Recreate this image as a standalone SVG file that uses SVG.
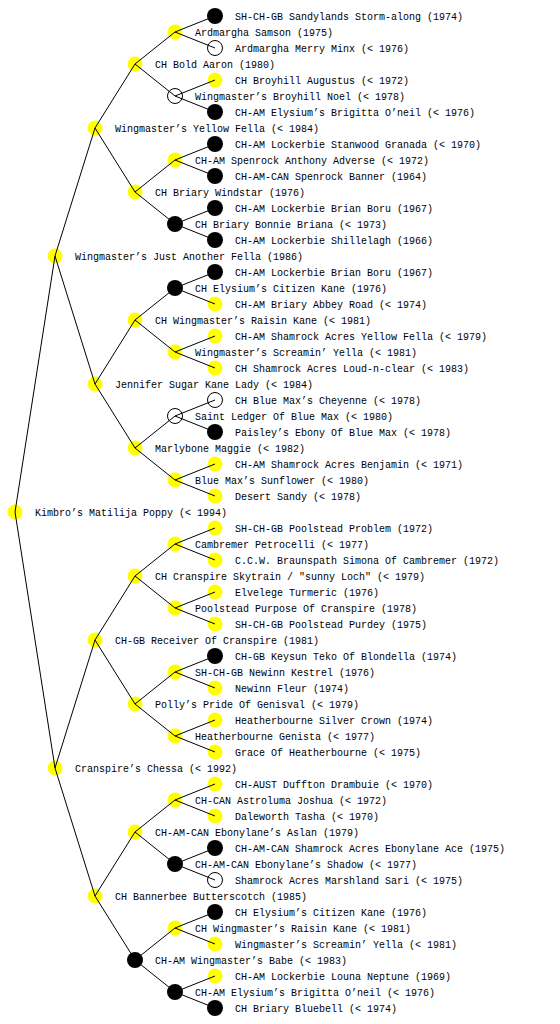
<svg xmlns="http://www.w3.org/2000/svg" width="560" height="1024" viewBox="0 0 560 1024">
<style>
text{font-family:"Liberation Mono","DejaVu Sans Mono",monospace;font-size:10px;fill:#000}
.y{fill:#ffff00}
.b{fill:#000}
.w{fill:#fff;stroke:#000;stroke-width:1}
#connectors line{stroke:#000;stroke-width:1}
</style>
<rect width="560" height="1024" fill="#fff"/>
<g id="nodes">
<g id="n0"><circle class="y" cx="15" cy="512" r="7.5"/><text x="35" y="516">Kimbro’s Matilija Poppy (&lt; 1994)</text></g>
<g id="n1a"><circle class="y" cx="55" cy="256" r="7.5"/><text x="75" y="260">Wingmaster’s Just Another Fella (1986)</text></g>
<g id="n1b"><circle class="y" cx="55" cy="768" r="7.5"/><text x="75" y="772">Cranspire’s Chessa (&lt; 1992)</text></g>
<g id="n2a"><circle class="y" cx="95" cy="128" r="7.5"/><text x="115" y="132">Wingmaster’s Yellow Fella (&lt; 1984)</text></g>
<g id="n2b"><circle class="y" cx="95" cy="384" r="7.5"/><text x="115" y="388">Jennifer Sugar Kane Lady (&lt; 1984)</text></g>
<g id="n2c"><circle class="y" cx="95" cy="640" r="7.5"/><text x="115" y="644">CH-GB Receiver Of Cranspire (1981)</text></g>
<g id="n2d"><circle class="y" cx="95" cy="896" r="7.5"/><text x="115" y="900">CH Bannerbee Butterscotch (1985)</text></g>
<g id="n3a"><circle class="y" cx="135" cy="64" r="7.5"/><text x="155" y="68">CH Bold Aaron (1980)</text></g>
<g id="n3b"><circle class="y" cx="135" cy="192" r="7.5"/><text x="155" y="196">CH Briary Windstar (1976)</text></g>
<g id="n3c"><circle class="y" cx="135" cy="320" r="7.5"/><text x="155" y="324">CH Wingmaster’s Raisin Kane (&lt; 1981)</text></g>
<g id="n3d"><circle class="y" cx="135" cy="448" r="7.5"/><text x="155" y="452">Marlybone Maggie (&lt; 1982)</text></g>
<g id="n3e"><circle class="y" cx="135" cy="576" r="7.5"/><text x="155" y="580">CH Cranspire Skytrain / "sunny Loch" (&lt; 1979)</text></g>
<g id="n3f"><circle class="y" cx="135" cy="704" r="7.5"/><text x="155" y="708">Polly’s Pride Of Genisval (&lt; 1979)</text></g>
<g id="n3g"><circle class="y" cx="135" cy="832" r="7.5"/><text x="155" y="836">CH-AM-CAN Ebonylane’s Aslan (1979)</text></g>
<g id="n3h"><circle class="b" cx="135" cy="960" r="8"/><text x="155" y="964">CH-AM Wingmaster’s Babe (&lt; 1983)</text></g>
<g id="n4a"><circle class="y" cx="175" cy="32" r="7.5"/><text x="195" y="36">Ardmargha Samson (1975)</text></g>
<g id="n4b"><circle class="w" cx="175" cy="96" r="7.5"/><text x="195" y="100">Wingmaster’s Broyhill Noel (&lt; 1978)</text></g>
<g id="n4c"><circle class="y" cx="175" cy="160" r="7.5"/><text x="195" y="164">CH-AM Spenrock Anthony Adverse (&lt; 1972)</text></g>
<g id="n4d"><circle class="b" cx="175" cy="224" r="8"/><text x="195" y="228">CH Briary Bonnie Briana (&lt; 1973)</text></g>
<g id="n4e"><circle class="b" cx="175" cy="288" r="8"/><text x="195" y="292">CH Elysium’s Citizen Kane (1976)</text></g>
<g id="n4f"><circle class="y" cx="175" cy="352" r="7.5"/><text x="195" y="356">Wingmaster’s Screamin’ Yella (&lt; 1981)</text></g>
<g id="n4g"><circle class="w" cx="175" cy="416" r="7.5"/><text x="195" y="420">Saint Ledger Of Blue Max (&lt; 1980)</text></g>
<g id="n4h"><circle class="y" cx="175" cy="480" r="7.5"/><text x="195" y="484">Blue Max’s Sunflower (&lt; 1980)</text></g>
<g id="n4i"><circle class="y" cx="175" cy="544" r="7.5"/><text x="195" y="548">Cambremer Petrocelli (&lt; 1977)</text></g>
<g id="n4j"><circle class="y" cx="175" cy="608" r="7.5"/><text x="195" y="612">Poolstead Purpose Of Cranspire (1978)</text></g>
<g id="n4k"><circle class="y" cx="175" cy="672" r="7.5"/><text x="195" y="676">SH-CH-GB Newinn Kestrel (1976)</text></g>
<g id="n4l"><circle class="y" cx="175" cy="736" r="7.5"/><text x="195" y="740">Heatherbourne Genista (&lt; 1977)</text></g>
<g id="n4m"><circle class="y" cx="175" cy="800" r="7.5"/><text x="195" y="804">CH-CAN Astroluma Joshua (&lt; 1972)</text></g>
<g id="n4n"><circle class="b" cx="175" cy="864" r="8"/><text x="195" y="868">CH-AM-CAN Ebonylane’s Shadow (&lt; 1977)</text></g>
<g id="n4o"><circle class="y" cx="175" cy="928" r="7.5"/><text x="195" y="932">CH Wingmaster’s Raisin Kane (&lt; 1981)</text></g>
<g id="n4p"><circle class="b" cx="175" cy="992" r="8"/><text x="195" y="996">CH-AM Elysium’s Brigitta O’neil (&lt; 1976)</text></g>
<g id="n5_00"><circle class="b" cx="215" cy="16" r="8"/><text x="235" y="20">SH-CH-GB Sandylands Storm-along (1974)</text></g>
<g id="n5_01"><circle class="w" cx="215" cy="48" r="7.5"/><text x="235" y="52">Ardmargha Merry Minx (&lt; 1976)</text></g>
<g id="n5_02"><circle class="y" cx="215" cy="80" r="7.5"/><text x="235" y="84">CH Broyhill Augustus (&lt; 1972)</text></g>
<g id="n5_03"><circle class="b" cx="215" cy="112" r="8"/><text x="235" y="116">CH-AM Elysium’s Brigitta O’neil (&lt; 1976)</text></g>
<g id="n5_04"><circle class="b" cx="215" cy="144" r="8"/><text x="235" y="148">CH-AM Lockerbie Stanwood Granada (&lt; 1970)</text></g>
<g id="n5_05"><circle class="b" cx="215" cy="176" r="8"/><text x="235" y="180">CH-AM-CAN Spenrock Banner (1964)</text></g>
<g id="n5_06"><circle class="b" cx="215" cy="208" r="8"/><text x="235" y="212">CH-AM Lockerbie Brian Boru (1967)</text></g>
<g id="n5_07"><circle class="b" cx="215" cy="240" r="8"/><text x="235" y="244">CH-AM Lockerbie Shillelagh (1966)</text></g>
<g id="n5_08"><circle class="b" cx="215" cy="272" r="8"/><text x="235" y="276">CH-AM Lockerbie Brian Boru (1967)</text></g>
<g id="n5_09"><circle class="y" cx="215" cy="304" r="7.5"/><text x="235" y="308">CH-AM Briary Abbey Road (&lt; 1974)</text></g>
<g id="n5_10"><circle class="y" cx="215" cy="336" r="7.5"/><text x="235" y="340">CH-AM Shamrock Acres Yellow Fella (&lt; 1979)</text></g>
<g id="n5_11"><circle class="y" cx="215" cy="368" r="7.5"/><text x="235" y="372">CH Shamrock Acres Loud-n-clear (&lt; 1983)</text></g>
<g id="n5_12"><circle class="w" cx="215" cy="400" r="7.5"/><text x="235" y="404">CH Blue Max’s Cheyenne (&lt; 1978)</text></g>
<g id="n5_13"><circle class="b" cx="215" cy="432" r="8"/><text x="235" y="436">Paisley’s Ebony Of Blue Max (&lt; 1978)</text></g>
<g id="n5_14"><circle class="y" cx="215" cy="464" r="7.5"/><text x="235" y="468">CH-AM Shamrock Acres Benjamin (&lt; 1971)</text></g>
<g id="n5_15"><circle class="y" cx="215" cy="496" r="7.5"/><text x="235" y="500">Desert Sandy (&lt; 1978)</text></g>
<g id="n5_16"><circle class="y" cx="215" cy="528" r="7.5"/><text x="235" y="532">SH-CH-GB Poolstead Problem (1972)</text></g>
<g id="n5_17"><circle class="y" cx="215" cy="560" r="7.5"/><text x="235" y="564">C.C.W. Braunspath Simona Of Cambremer (1972)</text></g>
<g id="n5_18"><circle class="y" cx="215" cy="592" r="7.5"/><text x="235" y="596">Elvelege Turmeric (1976)</text></g>
<g id="n5_19"><circle class="y" cx="215" cy="624" r="7.5"/><text x="235" y="628">SH-CH-GB Poolstead Purdey (1975)</text></g>
<g id="n5_20"><circle class="b" cx="215" cy="656" r="8"/><text x="235" y="660">CH-GB Keysun Teko Of Blondella (1974)</text></g>
<g id="n5_21"><circle class="y" cx="215" cy="688" r="7.5"/><text x="235" y="692">Newinn Fleur (1974)</text></g>
<g id="n5_22"><circle class="y" cx="215" cy="720" r="7.5"/><text x="235" y="724">Heatherbourne Silver Crown (1974)</text></g>
<g id="n5_23"><circle class="y" cx="215" cy="752" r="7.5"/><text x="235" y="756">Grace Of Heatherbourne (&lt; 1975)</text></g>
<g id="n5_24"><circle class="y" cx="215" cy="784" r="7.5"/><text x="235" y="788">CH-AUST Duffton Drambuie (&lt; 1970)</text></g>
<g id="n5_25"><circle class="y" cx="215" cy="816" r="7.5"/><text x="235" y="820">Daleworth Tasha (&lt; 1970)</text></g>
<g id="n5_26"><circle class="b" cx="215" cy="848" r="8"/><text x="235" y="852">CH-AM-CAN Shamrock Acres Ebonylane Ace (1975)</text></g>
<g id="n5_27"><circle class="w" cx="215" cy="880" r="7.5"/><text x="235" y="884">Shamrock Acres Marshland Sari (&lt; 1975)</text></g>
<g id="n5_28"><circle class="b" cx="215" cy="912" r="8"/><text x="235" y="916">CH Elysium’s Citizen Kane (1976)</text></g>
<g id="n5_29"><circle class="y" cx="215" cy="944" r="7.5"/><text x="235" y="948">Wingmaster’s Screamin’ Yella (&lt; 1981)</text></g>
<g id="n5_30"><circle class="y" cx="215" cy="976" r="7.5"/><text x="235" y="980">CH-AM Lockerbie Louna Neptune (1969)</text></g>
<g id="n5_31"><circle class="b" cx="215" cy="1008" r="8"/><text x="235" y="1012">CH Briary Bluebell (&lt; 1974)</text></g>
</g>
<g id="connectors">
<line x1="15" y1="512" x2="55" y2="256"/><line x1="15" y1="512" x2="55" y2="768"/>
<line x1="55" y1="256" x2="95" y2="128"/><line x1="55" y1="256" x2="95" y2="384"/>
<line x1="55" y1="768" x2="95" y2="640"/><line x1="55" y1="768" x2="95" y2="896"/>
<line x1="95" y1="128" x2="135" y2="64"/><line x1="95" y1="128" x2="135" y2="192"/>
<line x1="95" y1="384" x2="135" y2="320"/><line x1="95" y1="384" x2="135" y2="448"/>
<line x1="95" y1="640" x2="135" y2="576"/><line x1="95" y1="640" x2="135" y2="704"/>
<line x1="95" y1="896" x2="135" y2="832"/><line x1="95" y1="896" x2="135" y2="960"/>
<line x1="135" y1="64" x2="175" y2="32"/><line x1="135" y1="64" x2="175" y2="96"/>
<line x1="135" y1="192" x2="175" y2="160"/><line x1="135" y1="192" x2="175" y2="224"/>
<line x1="135" y1="320" x2="175" y2="288"/><line x1="135" y1="320" x2="175" y2="352"/>
<line x1="135" y1="448" x2="175" y2="416"/><line x1="135" y1="448" x2="175" y2="480"/>
<line x1="135" y1="576" x2="175" y2="544"/><line x1="135" y1="576" x2="175" y2="608"/>
<line x1="135" y1="704" x2="175" y2="672"/><line x1="135" y1="704" x2="175" y2="736"/>
<line x1="135" y1="832" x2="175" y2="800"/><line x1="135" y1="832" x2="175" y2="864"/>
<line x1="135" y1="960" x2="175" y2="928"/><line x1="135" y1="960" x2="175" y2="992"/>
<line x1="175" y1="32" x2="215" y2="16"/><line x1="175" y1="32" x2="215" y2="48"/>
<line x1="175" y1="96" x2="215" y2="80"/><line x1="175" y1="96" x2="215" y2="112"/>
<line x1="175" y1="160" x2="215" y2="144"/><line x1="175" y1="160" x2="215" y2="176"/>
<line x1="175" y1="224" x2="215" y2="208"/><line x1="175" y1="224" x2="215" y2="240"/>
<line x1="175" y1="288" x2="215" y2="272"/><line x1="175" y1="288" x2="215" y2="304"/>
<line x1="175" y1="352" x2="215" y2="336"/><line x1="175" y1="352" x2="215" y2="368"/>
<line x1="175" y1="416" x2="215" y2="400"/><line x1="175" y1="416" x2="215" y2="432"/>
<line x1="175" y1="480" x2="215" y2="464"/><line x1="175" y1="480" x2="215" y2="496"/>
<line x1="175" y1="544" x2="215" y2="528"/><line x1="175" y1="544" x2="215" y2="560"/>
<line x1="175" y1="608" x2="215" y2="592"/><line x1="175" y1="608" x2="215" y2="624"/>
<line x1="175" y1="672" x2="215" y2="656"/><line x1="175" y1="672" x2="215" y2="688"/>
<line x1="175" y1="736" x2="215" y2="720"/><line x1="175" y1="736" x2="215" y2="752"/>
<line x1="175" y1="800" x2="215" y2="784"/><line x1="175" y1="800" x2="215" y2="816"/>
<line x1="175" y1="864" x2="215" y2="848"/><line x1="175" y1="864" x2="215" y2="880"/>
<line x1="175" y1="928" x2="215" y2="912"/><line x1="175" y1="928" x2="215" y2="944"/>
<line x1="175" y1="992" x2="215" y2="976"/><line x1="175" y1="992" x2="215" y2="1008"/>
</g>
</svg>
